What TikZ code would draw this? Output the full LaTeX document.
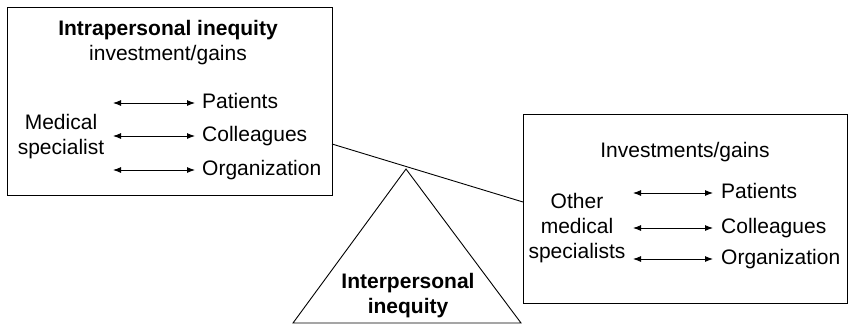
\documentclass[tikz,border=0pt]{standalone}
\usepackage{fontspec}
\setmainfont{Liberation Sans}
\usetikzlibrary{arrows.meta}
\tikzset{
  txt/.style={font=\fontsize{21}{25}\selectfont, align=center, inner sep=0pt},
  bold/.style={txt, font=\fontsize{21}{25}\selectfont\bfseries},
  lbl/.style={txt, anchor=west, text height=15pt, text depth=4.5pt},
  frame/.style={draw, line width=1pt},
  link/.style={{Latex[length=8pt,width=6pt]}-{Latex[length=8pt,width=6pt]}, line width=0.9pt},
}
\begin{document}
\begin{tikzpicture}[x=1pt,y=-1pt]
  \useasboundingbox (0,0) rectangle (851,325);
  % boxes and balance
  \node[frame, minimum width=325pt, minimum height=188pt] (left) at (169.5,101) {};
  \node[frame, minimum width=324pt, minimum height=189pt] (right) at (685,208.5) {};
  \coordinate (apex) at (406,169);
  \coordinate (baseL) at (293,323);
  \coordinate (baseR) at (521,323);
  \coordinate (beamL) at (332,144);
  \coordinate (beamR) at (523,202);
  \draw[line width=0.9pt] (beamL) -- (beamR);
  \draw[line width=0.9pt] (baseL) -- (apex) -- (baseR) -- cycle;
  % left box
  \node[bold] (intra) at (168,30) {Intrapersonal inequity};
  \node[txt] (invgain) at (168,55) {investment/gains};
  \node[txt] (medspec) at (61,137) {Medical\\specialist};
  \node[lbl] (pat) at (202,103) {Patients};
  \node[lbl] (col) at (202,136) {Colleagues};
  \node[lbl] (org) at (202,170) {Organization};
  \coordinate (a1) at (113,103);
  \coordinate (a2) at (113,136);
  \coordinate (a3) at (113,170);
  % right box
  \node[txt] (invgains) at (685,152) {Investments/gains};
  \node[txt] (othspec) at (577,228) {Other\\medical\\specialists};
  \node[lbl] (pat2) at (721,193) {Patients};
  \node[lbl] (col2) at (721,228) {Colleagues};
  \node[lbl] (org2) at (721,259) {Organization};
  \coordinate (b1) at (633,193);
  \coordinate (b2) at (633,228);
  \coordinate (b3) at (633,259);
  % triangle
  \node[bold] (inter) at (408,296) {Interpersonal\\inequity};
  \begin{scope}[link]
    \draw (a1) -- ([xshift=-7pt]pat.west);
    \draw (a2) -- ([xshift=-7pt]col.west);
    \draw (a3) -- ([xshift=-7pt]org.west);
    \draw (b1) -- ([xshift=-8pt]pat2.west);
    \draw (b2) -- ([xshift=-8pt]col2.west);
    \draw (b3) -- ([xshift=-8pt]org2.west);
  \end{scope}
\end{tikzpicture}
\end{document}
